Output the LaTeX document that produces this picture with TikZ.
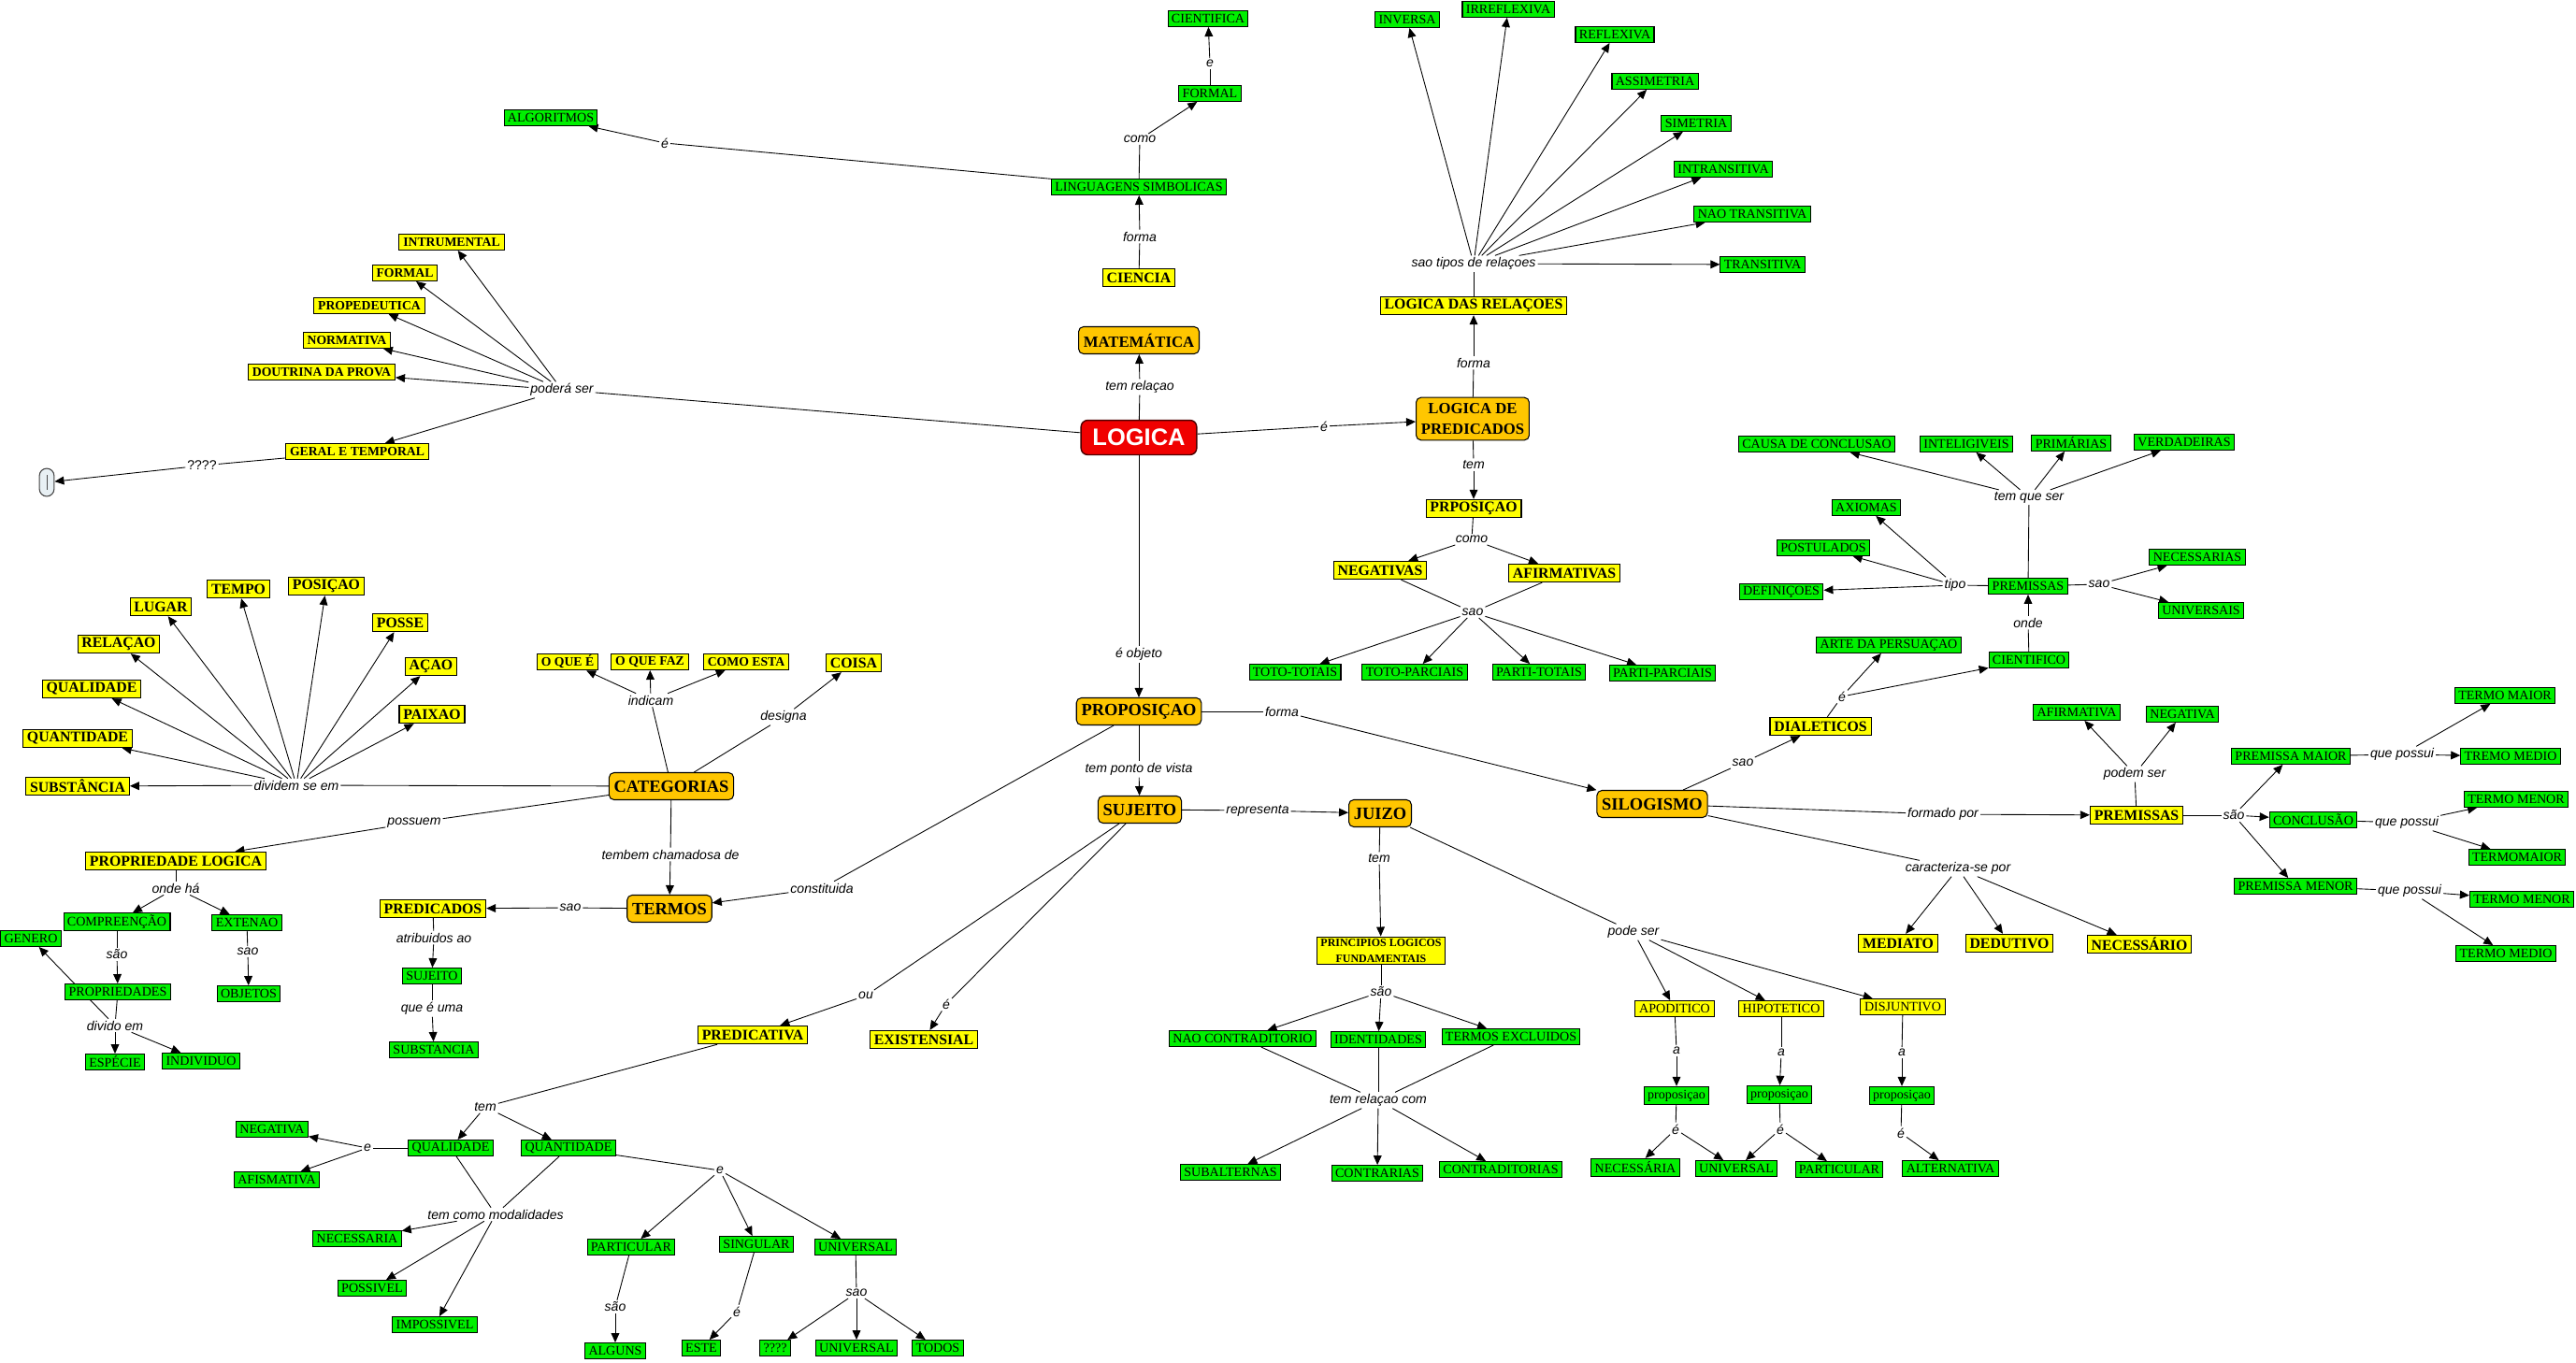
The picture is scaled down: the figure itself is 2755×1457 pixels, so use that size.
\documentclass[tikz,border=0pt]{standalone}
\usepackage{fontspec}
\setmainfont{Liberation Serif}
\newfontfamily\semserifa{Liberation Sans}
\usetikzlibrary{arrows.meta}
\definecolor{corverde}{RGB}{0,240,0}
\definecolor{coramarelo}{RGB}{255,255,0}
\definecolor{corlaranja}{RGB}{255,198,0}
\definecolor{corvermelho}{RGB}{240,0,0}
\definecolor{corcinza}{RGB}{232,240,244}
\pgfdeclarelayer{fundo}
\pgfsetlayers{fundo,main}

\begin{document}
\begin{tikzpicture}[x=0.02cm, y=-0.02cm]
    % As coordenadas estão em píxeis da imagem original (y cresce para baixo),
    % por isso cada conceito fica exatamente onde estava no mapa.
    \tikzstyle{verde} = [rectangle, draw=black, fill=corverde, line width=0.6pt,
        font=\fontsize{8}{9}\selectfont, inner xsep=2.2pt, inner ysep=1pt,
        minimum height=9.6pt]
    \tikzstyle{amarelo} = [rectangle, draw=black, fill=coramarelo, line width=0.6pt,
        font=\bfseries\fontsize{9}{10}\selectfont, inner xsep=2.5pt, inner ysep=1pt,
        minimum height=11pt]
    \tikzstyle{amarelop} = [amarelo, font=\bfseries\fontsize{7.8}{9}\selectfont,
        minimum height=9.6pt]
    \tikzstyle{amarelor} = [amarelo, font=\fontsize{8}{9}\selectfont,
        minimum height=9.6pt]
    \tikzstyle{laranja} = [rectangle, rounded corners=3pt, draw=black, fill=corlaranja,
        line width=0.6pt, font=\bfseries\fontsize{10.5}{12}\selectfont,
        inner xsep=3pt, minimum height=16.5pt]
    \tikzstyle{raiz} = [rectangle, rounded corners=4pt, draw=black!70!red,
        fill=corvermelho, line width=0.8pt, text=white,
        font=\semserifa\bfseries\fontsize{14.5}{16}\selectfont,
        inner xsep=7pt, minimum height=21pt]
    \tikzstyle{oval} = [rectangle, rounded corners=4.5pt, draw=black!75, fill=corcinza,
        line width=0.6pt, minimum width=9pt, minimum height=17pt, inner sep=0pt]
    \tikzstyle{ligacao} = [font=\semserifa\itshape\fontsize{8}{9}\selectfont,
        inner sep=1pt]
    \tikzstyle{linha} = [line width=0.5pt]
    \tikzstyle{seta} = [linha, -{Triangle[length=5.7pt,width=5pt]}]

    \useasboundingbox (0,0) rectangle (2755,1457);

    % centro
    \node (logica) [raiz] at (1218,468) {LOGICA};
    \node (mat) [laranja, font=\bfseries\fontsize{9.5}{11}\selectfont] at (1218,364) {MATEMÁTICA};
    \node (ltemrel) [ligacao] at (1219,414) {tem relaçao};

    % ramo "poderá ser"
    \node (intr) [amarelop] at (483,259) {INTRUMENTAL};
    \node (formy) [amarelop] at (433,292) {FORMAL};
    \node (prop) [amarelop] at (395,327) {PROPEDEUTICA};
    \node (norm) [amarelop] at (371,364) {NORMATIVA};
    \node (dout) [amarelop] at (344,398) {DOUTRINA DA PROVA};
    \node (geral) [amarelop] at (382,483) {GERAL E TEMPORAL};
    \node (lpodera) [ligacao] at (601,417) {poderá ser};
    \node (linterr) [ligacao, font=\semserifa\fontsize{8}{9}\selectfont] at (216,498) {????};
    \node (vazio) [oval] at (50,516) {{\color{black!70}\rule{0.4pt}{9pt}}};

    % ciência e linguagens
    \node (cient) [verde] at (1292,20) {CIENTIFICA};
    \node (le1) [ligacao] at (1294,68) {e};
    \node (formv) [verde] at (1294,100) {FORMAL};
    \node (lcomo1) [ligacao] at (1219,149) {como};
    \node (ling) [verde] at (1218,200) {LINGUAGENS SIMBOLICAS};
    \node (lforma1) [ligacao] at (1219,253) {forma};
    \node (ciencia) [amarelo] at (1218,297) {CIENCIA};
    \node (le2) [ligacao] at (711,153) {é};
    \node (algor) [verde] at (589,126) {ALGORITMOS};

    % lógica de predicados
    \node (le3) [ligacao] at (1416,456) {é};
    \node (lpred) [laranja, align=center, font=\bfseries\fontsize{9.5}{12.5}\selectfont,
        minimum height=26pt] at (1575,448) {LOGICA DE\\PREDICADOS};
    \node (lforma2) [ligacao] at (1576,388) {forma};
    \node (lrel) [amarelo] at (1576,327) {LOGICA DAS RELAÇOES};
    \node (ltipos) [ligacao] at (1576,282) {sao tipos de relaçoes};
    \node (inversa) [verde] at (1505,21) {INVERSA};
    \node (irref) [verde] at (1613,10) {IRREFLEXIVA};
    \node (refl) [verde] at (1727,37) {REFLEXIVA};
    \node (assim) [verde] at (1770,87) {ASSIMETRIA};
    \node (sime) [verde] at (1814,132) {SIMETRIA};
    \node (intran) [verde] at (1843,181) {INTRANSITIVA};
    \node (naotran) [verde] at (1874,229) {NAO TRANSITIVA};
    \node (transi) [verde] at (1885,283) {TRANSITIVA};
    \node (ltem1) [ligacao] at (1576,497) {tem};
    \node (prpos) [amarelo] at (1576,544) {PRPOSIÇAO};
    \node (lcomo2) [ligacao] at (1574,577) {como};
    \node (negs) [amarelo] at (1476,610) {NEGATIVAS};
    \node (afirs) [amarelo] at (1673,613) {AFIRMATIVAS};
    \node (lsao1) [ligacao] at (1575,655) {sao};
    \node (tt) [verde] at (1385,719) {TOTO-TOTAIS};
    \node (tp) [verde] at (1513,719) {TOTO-PARCIAIS};
    \node (pt) [verde] at (1646,719) {PARTI-TOTAIS};
    \node (pp) [verde] at (1778,720) {PARTI-PARCIAIS};

    % silogismo dialético e científico
    \node (silog) [laranja] at (1767,860) {SILOGISMO};
    \node (lsao3) [ligacao] at (1864,816) {sao};
    \node (dial) [amarelo] at (1947,777) {DIALETICOS};
    \node (le4) [ligacao] at (1970,745) {é};
    \node (arte) [verde] at (2020,690) {ARTE DA PERSUAÇAO};
    \node (cientif) [verde] at (2170,706) {CIENTIFICO};
    \node (londe) [ligacao] at (2169,666) {onde};
    \node (premv) [verde] at (2169,627) {PREMISSAS};
    \node (ltipo) [ligacao] at (2091,626) {tipo};
    \node (axi) [verde] at (1996,543) {AXIOMAS};
    \node (post) [verde] at (1950,586) {POSTULADOS};
    \node (defi) [verde] at (1905,633) {DEFINIÇOES};
    \node (lsao2) [ligacao] at (2245,625) {sao};
    \node (necs) [verde] at (2350,596) {NECESSARIAS};
    \node (univs) [verde] at (2354,653) {UNIVERSAIS};
    \node (ltemque) [ligacao] at (2170,532) {tem que ser};
    \node (causa) [verde] at (1943,475) {CAUSA DE CONCLUSAO};
    \node (intel) [verde] at (2103,475) {INTELIGIVEIS};
    \node (prim) [verde] at (2215,474) {PRIMÁRIAS};
    \node (verd) [verde] at (2336,473) {VERDADEIRAS};

    % premissas do silogismo
    \node (lformado) [ligacao] at (2078,871) {formado por};
    \node (prema) [amarelo] at (2285,872) {PREMISSAS};
    \node (lpodem) [ligacao] at (2283,828) {podem ser};
    \node (afirm) [verde] at (2221,762) {AFIRMATIVA};
    \node (negat) [verde] at (2334,764) {NEGATIVA};
    \node (lsao4) [ligacao] at (2389,872) {são};
    \node (pmaior) [verde] at (2450,809) {PREMISSA MAIOR};
    \node (concl) [verde] at (2474,877) {CONCLUSÃO};
    \node (pmenor) [verde] at (2455,948) {PREMISSA MENOR};
    \node (lqp1) [ligacao] at (2569,807) {que possui};
    \node (lqp2) [ligacao] at (2574,880) {que possui};
    \node (lqp3) [ligacao] at (2577,953) {que possui};
    \node (tmaior) [verde] at (2679,744) {TERMO MAIOR};
    \node (tmedio1) [verde] at (2685,809) {TREMO MEDIO};
    \node (tmenor1) [verde] at (2691,855) {TERMO MENOR};
    \node (tmaior2) [verde] at (2692,917) {TERMOMAIOR};
    \node (tmenor2) [verde] at (2697,962) {TERMO MENOR};
    \node (tmedio2) [verde] at (2680,1020) {TERMO MEDIO};
    \node (lcarac) [ligacao] at (2094,929) {caracteriza-se por};
    \node (mediato) [amarelo] at (2030,1009) {MEDIATO};
    \node (dedut) [amarelo] at (2149,1009) {DEDUTIVO};
    \node (necess) [amarelo] at (2288,1010) {NECESSÁRIO};

    % categorias
    \node (categ) [laranja] at (718,841) {CATEGORIAS};
    \node (ldivid) [ligacao] at (317,840) {dividem se em};
    \node (tempo) [amarelo] at (255,630) {TEMPO};
    \node (posic) [amarelo] at (349,627) {POSIÇAO};
    \node (lugar) [amarelo] at (172,649) {LUGAR};
    \node (posse) [amarelo] at (428,666) {POSSE};
    \node (relac) [amarelo] at (127,689) {RELAÇAO};
    \node (acao) [amarelo] at (461,713) {AÇAO};
    \node (quali) [amarelo] at (98,737) {QUALIDADE};
    \node (paixao) [amarelo] at (462,764) {PAIXAO};
    \node (quant) [amarelo] at (83,790) {QUANTIDADE};
    \node (subst) [amarelo] at (83,841) {SUBSTÂNCIA};
    \node (lindic) [ligacao] at (696,749) {indicam};
    \node (oquee) [amarelop] at (607,708) {O QUE É};
    \node (oquefaz) [amarelop] at (695,708) {O QUE FAZ};
    \node (comoesta) [amarelop] at (798,708) {COMO ESTA};
    \node (ldesign) [ligacao] at (838,767) {designa};
    \node (coisa) [amarelo] at (913,709) {COISA};
    \node (lpossuem) [ligacao] at (443,880) {possuem};
    \node (proplog) [amarelo] at (188,921) {PROPRIEDADE LOGICA};
    \node (londeha) [ligacao] at (188,950) {onde há};
    \node (compr) [verde] at (125,986) {COMPREENÇÃO};
    \node (exten) [verde] at (264,987) {EXTENAO};
    \node (genero) [verde] at (33,1004) {GENERO};
    \node (lsao5) [ligacao] at (125,1021) {são};
    \node (lsao6) [ligacao] at (265,1018) {sao};
    \node (propr) [verde] at (126,1061) {PROPRIEDADES};
    \node (objetos) [verde] at (266,1063) {OBJETOS};
    \node (ldivido) [ligacao] at (123,1097) {divido em};
    \node (especie) [verde] at (123,1136) {ESPÉCIE};
    \node (indiv) [verde] at (215,1135) {INDIVIDUO};
    \node (ltembem) [ligacao] at (717,914) {tembem chamadosa de};
    \node (termos) [laranja] at (716,972) {TERMOS};
    \node (lsao7) [ligacao] at (610,971) {sao};
    \node (predic) [amarelo] at (463,972) {PREDICADOS};
    \node (latrib) [ligacao] at (464,1003) {atribuidos ao};
    \node (sujv) [verde] at (462,1044) {SUJEITO};
    \node (lqueuma) [ligacao] at (462,1079) {que é uma};
    \node (substv) [verde] at (464,1123) {SUBSTANCIA};

    % proposição e sujeito
    \node (lobjeto) [ligacao] at (1218,700) {é objeto};
    \node (propos) [laranja] at (1218,761) {PROPOSIÇAO};
    \node (lforma3) [ligacao] at (1371,761) {forma};
    \node (lconstit) [ligacao] at (879,950) {constituida};
    \node (lponto) [ligacao] at (1218,823) {tem ponto de vista};
    \node (sujeito) [laranja] at (1219,866) {SUJEITO};
    \node (lrepres) [ligacao] at (1345,867) {representa};
    \node (juizo) [laranja] at (1476,870) {JUIZO};
    \node (lou) [ligacao] at (926,1065) {ou};
    \node (le5) [ligacao] at (1012,1074) {é};
    \node (predicat) [amarelo] at (805,1107) {PREDICATIVA};
    \node (exist) [amarelo] at (988,1112) {EXISTENSIAL};

    % predicativa: qualidade e quantidade
    \node (ltem2) [ligacao] at (519,1184) {tem};
    \node (qualv) [verde] at (482,1228) {QUALIDADE};
    \node (quantv) [verde] at (608,1228) {QUANTIDADE};
    \node (le6) [ligacao] at (393,1228) {e};
    \node (negv) [verde] at (291,1208) {NEGATIVA};
    \node (afism) [verde] at (296,1262) {AFISMATIVA};
    \node (lmodal) [ligacao] at (530,1299) {tem como modalidades};
    \node (necsa) [verde] at (382,1325) {NECESSARIA};
    \node (possiv) [verde] at (398,1378) {POSSIVEL};
    \node (imposs) [verde] at (465,1417) {IMPOSSIVEL};
    \node (le7) [ligacao] at (770,1252) {e};
    \node (partic) [verde] at (675,1334) {PARTICULAR};
    \node (sing) [verde] at (809,1331) {SINGULAR};
    \node (univ1) [verde] at (915,1334) {UNIVERSAL};
    \node (lsao8) [ligacao] at (658,1398) {são};
    \node (le8) [ligacao] at (788,1403) {é};
    \node (lsao9) [ligacao] at (916,1383) {sao};
    \node (alguns) [verde] at (658,1445) {ALGUNS};
    \node (este) [verde] at (750,1442) {ESTE};
    \node (interr) [verde] at (829,1442) {????};
    \node (univ2) [verde] at (916,1442) {UNIVERSAL};
    \node (todos) [verde] at (1003,1442) {TODOS};

    % juízo
    \node (ltem3) [ligacao] at (1475,918) {tem};
    \node (princ) [amarelo, align=center, font=\bfseries\fontsize{6.8}{10}\selectfont,
        minimum height=17pt] at (1477,1017) {PRINCIPIOS LOGICOS\\FUNDAMENTAIS};
    \node (lsao10) [ligacao] at (1477,1061) {são};
    \node (naocontr) [verde] at (1329,1111) {NAO CONTRADITORIO};
    \node (ident) [verde] at (1474,1112) {IDENTIDADES};
    \node (excl) [verde] at (1616,1109) {TERMOS EXCLUIDOS};
    \node (ltemrelcom) [ligacao] at (1474,1177) {tem relaçao com};
    \node (subalt) [verde] at (1316,1254) {SUBALTERNAS};
    \node (contrar) [verde] at (1473,1255) {CONTRARIAS};
    \node (contrad) [verde] at (1605,1251) {CONTRADITORIAS};
    \node (lpode) [ligacao] at (1747,997) {pode ser};
    \node (apod) [amarelor] at (1791,1079) {APODITICO};
    \node (hipot) [amarelor] at (1905,1079) {HIPOTETICO};
    \node (disj) [amarelor] at (2035,1077) {DISJUNTIVO};
    \node (la1) [ligacao] at (1793,1124) {a};
    \node (la2) [ligacao] at (1905,1126) {a};
    \node (la3) [ligacao] at (2034,1126) {a};
    \node (prop1) [verde, minimum height=11pt] at (1793,1172) {proposiçao};
    \node (prop2) [verde, minimum height=11pt] at (1903,1171) {proposiçao};
    \node (prop3) [verde, minimum height=11pt] at (2034,1172) {proposiçao};
    \node (le9) [ligacao] at (1792,1208) {é};
    \node (le10) [ligacao] at (1904,1208) {é};
    \node (le11) [ligacao] at (2033,1212) {é};
    \node (necsaria) [verde, minimum height=11pt] at (1749,1249) {NECESSÁRIA};
    \node (univ3) [verde] at (1857,1250) {UNIVERSAL};
    \node (partic2) [verde] at (1967,1251) {PARTICULAR};
    \node (altern) [verde] at (2086,1250) {ALTERNATIVA};

    % Ligações na camada de fundo: a de "divido em" para GENERO passa por
    % trás da caixa PROPRIEDADES, como no mapa original.
    \begin{pgfonlayer}{fundo}
    \draw [linha] (logica) -- (ltemrel);
    \draw [seta] (ltemrel) -- (mat);
    \draw [linha] (logica) -- (lpodera);
    \foreach \n in {intr, formy, prop, norm, dout, geral}
        \draw [seta] (lpodera) -- (\n);
    \draw [linha] (geral) -- (linterr);
    \draw [seta] (linterr) -- (vazio);

    \draw [linha] (ciencia) -- (lforma1);
    \draw [seta] (lforma1) -- (ling);
    \draw [linha] (ling) -- (lcomo1);
    \draw [seta] (lcomo1) -- (formv);
    \draw [linha] (formv) -- (le1);
    \draw [seta] (le1) -- (cient);
    \draw [linha] (ling) -- (le2);
    \draw [seta] (le2) -- (algor);

    \draw [linha] (logica) -- (le3);
    \draw [seta] (le3) -- (lpred);
    \draw [linha] (lpred) -- (lforma2);
    \draw [seta] (lforma2) -- (lrel);
    \draw [linha] (lrel) -- (ltipos);
    \foreach \n in {inversa, irref, refl, assim, sime, intran, naotran, transi}
        \draw [seta] (ltipos) -- (\n);
    \draw [linha] (lpred) -- (ltem1);
    \draw [seta] (ltem1) -- (prpos);
    \draw [linha] (prpos) -- (lcomo2);
    \draw [seta] (lcomo2) -- (negs);
    \draw [seta] (lcomo2) -- (afirs);
    \draw [linha] (negs) -- (lsao1);
    \draw [linha] (afirs) -- (lsao1);
    \foreach \n in {tt, tp, pt, pp}
        \draw [seta] (lsao1) -- (\n);

    \draw [linha] (logica) -- (lobjeto);
    \draw [seta] (lobjeto) -- (propos);
    \draw [linha] (propos) -- (lponto);
    \draw [seta] (lponto) -- (sujeito);
    \draw [linha] (propos) -- (lforma3);
    \draw [seta] (lforma3) -- (silog);
    \draw [linha] (propos) -- (lconstit);
    \draw [seta] (lconstit) -- (termos);
    \draw [linha] (sujeito) -- (lrepres);
    \draw [seta] (lrepres) -- (juizo);
    \draw [linha] (sujeito) -- (lou);
    \draw [seta] (lou) -- (predicat);
    \draw [linha] (sujeito) -- (le5);
    \draw [seta] (le5) -- (exist);

    \draw [linha] (predicat) -- (ltem2);
    \draw [seta] (ltem2) -- (qualv);
    \draw [seta] (ltem2) -- (quantv);
    \draw [linha] (qualv) -- (le6);
    \draw [seta] (le6) -- (negv);
    \draw [seta] (le6) -- (afism);
    \draw [linha] (qualv) -- (lmodal);
    \draw [linha] (quantv) -- (lmodal);
    \foreach \n in {necsa, possiv, imposs}
        \draw [seta] (lmodal) -- (\n);
    \draw [linha] (quantv) -- (le7);
    \foreach \n in {partic, sing, univ1}
        \draw [seta] (le7) -- (\n);
    \draw [linha] (partic) -- (lsao8);
    \draw [seta] (lsao8) -- (alguns);
    \draw [linha] (sing) -- (le8);
    \draw [seta] (le8) -- (este);
    \draw [linha] (univ1) -- (lsao9);
    \foreach \n in {interr, univ2, todos}
        \draw [seta] (lsao9) -- (\n);

    \draw [linha] (juizo) -- (ltem3);
    \draw [seta] (ltem3) -- (princ);
    \draw [linha] (princ) -- (lsao10);
    \foreach \n in {naocontr, ident, excl} {
        \draw [seta] (lsao10) -- (\n);
        \draw [linha] (\n) -- (ltemrelcom);
    }
    \foreach \n in {subalt, contrar, contrad}
        \draw [seta] (ltemrelcom) -- (\n);
    \draw [linha] (juizo) -- (lpode);
    \foreach \n in {apod, hipot, disj}
        \draw [seta] (lpode) -- (\n);
    \foreach \a/\l/\b in {apod/la1/prop1, hipot/la2/prop2, disj/la3/prop3} {
        \draw [linha] (\a) -- (\l);
        \draw [seta] (\l) -- (\b);
    }
    \draw [linha] (prop1) -- (le9);
    \draw [seta] (le9) -- (necsaria);
    \draw [seta] (le9) -- (univ3);
    \draw [linha] (prop2) -- (le10);
    \draw [seta] (le10) -- (univ3);
    \draw [seta] (le10) -- (partic2);
    \draw [linha] (prop3) -- (le11);
    \draw [seta] (le11) -- (altern);

    \draw [linha] (silog) -- (lsao3);
    \draw [seta] (lsao3) -- (dial);
    \draw [linha] (dial) -- (le4);
    \draw [seta] (le4) -- (arte);
    \draw [seta] (le4) -- (cientif);
    \draw [linha] (cientif) -- (londe);
    \draw [seta] (londe) -- (premv);
    \draw [linha] (premv) -- (ltipo);
    \foreach \n in {axi, post, defi}
        \draw [seta] (ltipo) -- (\n);
    \draw [linha] (premv) -- (lsao2);
    \foreach \n in {necs, univs}
        \draw [seta] (lsao2) -- (\n);
    \draw [linha] (premv) -- (ltemque);
    \foreach \n in {causa, intel, prim, verd}
        \draw [seta] (ltemque) -- (\n);

    \draw [linha] (silog) -- (lformado);
    \draw [seta] (lformado) -- (prema);
    \draw [linha] (prema) -- (lpodem);
    \draw [seta] (lpodem) -- (afirm);
    \draw [seta] (lpodem) -- (negat);
    \draw [linha] (prema) -- (lsao4);
    \foreach \n in {pmaior, concl, pmenor}
        \draw [seta] (lsao4) -- (\n);
    \foreach \a/\l/\b/\c in {pmaior/lqp1/tmaior/tmedio1, concl/lqp2/tmenor1/tmaior2,
                            pmenor/lqp3/tmenor2/tmedio2} {
        \draw [linha] (\a) -- (\l);
        \draw [seta] (\l) -- (\b);
        \draw [seta] (\l) -- (\c);
    }
    \draw [linha] (silog) -- (lcarac);
    \foreach \n in {mediato, dedut, necess}
        \draw [seta] (lcarac) -- (\n);

    \draw [linha] (categ) -- (ldivid);
    \foreach \n in {tempo, posic, lugar, posse, relac, acao, quali, paixao, quant, subst}
        \draw [seta] (ldivid) -- (\n);
    \draw [linha] (categ) -- (lindic);
    \foreach \n in {oquee, oquefaz, comoesta}
        \draw [seta] (lindic) -- (\n);
    \draw [linha] (categ) -- (ldesign);
    \draw [seta] (ldesign) -- (coisa);
    \draw [linha] (categ) -- (lpossuem);
    \draw [seta] (lpossuem) -- (proplog);
    \draw [linha] (categ) -- (ltembem);
    \draw [seta] (ltembem) -- (termos);
    \draw [linha] (termos) -- (lsao7);
    \draw [seta] (lsao7) -- (predic);
    \draw [linha] (predic) -- (latrib);
    \draw [seta] (latrib) -- (sujv);
    \draw [linha] (sujv) -- (lqueuma);
    \draw [seta] (lqueuma) -- (substv);
    \draw [linha] (proplog) -- (londeha);
    \draw [seta] (londeha) -- (compr);
    \draw [seta] (londeha) -- (exten);
    \draw [linha] (compr) -- (lsao5);
    \draw [seta] (lsao5) -- (propr);
    \draw [linha] (exten) -- (lsao6);
    \draw [seta] (lsao6) -- (objetos);
    \draw [linha] (propr) -- (ldivido);
    \foreach \n in {genero, especie, indiv}
        \draw [seta] (ldivido) -- (\n);
    \end{pgfonlayer}
\end{tikzpicture}
\end{document}
